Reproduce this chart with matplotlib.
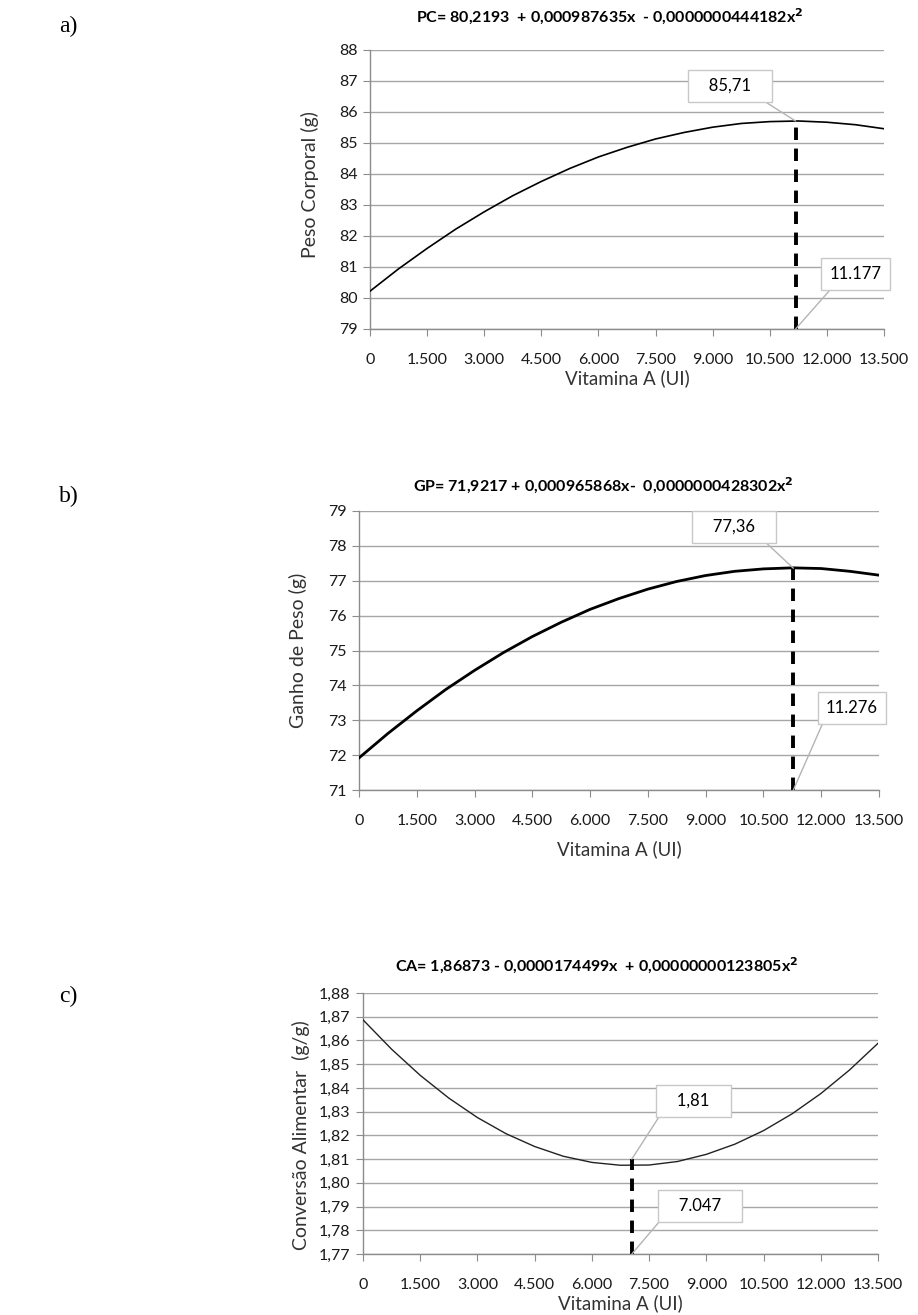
import matplotlib
matplotlib.use('Agg')
import matplotlib.pyplot as plt
import matplotlib.ticker as tkr

plt.rcParams['font.family'] = ['Lato', 'DejaVu Sans']

# Vitamina A (UI) levels
vit_a = [0, 750, 1500, 2250, 3000, 3750, 4500, 5250, 6000, 6750, 7500,
         8250, 9000, 9750, 10500, 11250, 12000, 12750, 13500]

peso_corporal = [80.22, 80.94, 81.60, 82.22, 82.78, 83.30, 83.76, 84.18, 84.55, 84.86,
                 85.13, 85.34, 85.51, 85.63, 85.69, 85.71, 85.67, 85.59, 85.46]
ganho_peso = [71.92, 72.62, 73.27, 73.88, 74.43, 74.94, 75.40, 75.81, 76.18, 76.49,
              76.76, 76.98, 77.15, 77.27, 77.34, 77.37, 77.35, 77.27, 77.16]
conversao = [1.8687, 1.8563, 1.8453, 1.8357, 1.8275, 1.8207, 1.8153, 1.8112, 1.8086, 1.8074,
             1.8075, 1.8090, 1.8120, 1.8163, 1.8220, 1.8291, 1.8376, 1.8475, 1.8588]

xticks = [0, 1500, 3000, 4500, 6000, 7500, 9000, 10500, 12000, 13500]

# optimum points (x, y) and their labels
opt_pc = (11177, 85.71, '85,71', '11.177')
opt_gp = (11276, 77.36, '77,36', '11.276')
opt_ca = (7047, 1.81, '1,81', '7.047')

titles = ['PC= 80,2193  + 0,000987635x  - 0,0000000444182x$^\\mathbf{2}$',
          'GP= 71,9217 + 0,000965868x-  0,0000000428302x$^\\mathbf{2}$',
          'CA= 1,86873 - 0,0000174499x  + 0,00000000123805x$^\\mathbf{2}$']

W, H = 918, 1315
fig = plt.figure(figsize=(W / 100, H / 100), dpi=100)

def px_axes(l, r, t, b):
    return fig.add_axes([l / W, 1 - b / H, (r - l) / W, (b - t) / H])

grey = '#8c8c8c'
grid = '#a6a6a6'
fs = 11.5

def style(ax, ylim, ystep, yfmt, xlabelpad):
    ax.set_xlim(0, 13500)
    ax.set_ylim(*ylim)
    ax.set_xticks(xticks)
    ax.xaxis.set_major_formatter(tkr.FuncFormatter(
        lambda v, p: '{:,d}'.format(int(round(v))).replace(',', '.')))
    n = int(round((ylim[1] - ylim[0]) / ystep))
    ax.set_yticks([ylim[0] + i * ystep for i in range(n + 1)])
    ax.yaxis.set_major_formatter(tkr.FuncFormatter(yfmt))
    for s in ['top', 'right']:
        ax.spines[s].set_visible(False)
    for s in ['left', 'bottom']:
        ax.spines[s].set_color(grey)
        ax.spines[s].set_linewidth(1)
    ax.grid(axis='y', color=grid, linewidth=1)
    ax.set_axisbelow(True)
    ax.tick_params(axis='x', length=5, color=grey, pad=12, labelsize=fs, labelcolor='#1a1a1a')
    ax.tick_params(axis='y', length=5, color=grey, pad=4, labelsize=fs, labelcolor='#1a1a1a')
    ax.set_xlabel('Vitamina A (UI)', fontsize=13.5, color='#333333', labelpad=xlabelpad)

def annotate(ax, opt, ymin, top_pos, top_rel, bot_pos, bot_rel, bot_sp=3):
    x, y, lab_y, lab_x = opt
    ax.plot([x, x], [ymin, y], color='black', linewidth=2.8, linestyle=(0, (3.2, 2.2)),
            zorder=4, clip_on=False)
    box = dict(boxstyle='square,pad=0.5', fc='white', ec='#c8c8c8', lw=1)
    ax.annotate('   ' + lab_y + '   ', xy=(x, y), xytext=top_pos, textcoords='axes fraction',
                ha='center', va='center', fontsize=12, bbox=box, zorder=5,
                arrowprops=dict(arrowstyle='-', color='#b4b4b4', lw=1,
                                relpos=top_rel, shrinkA=0, shrinkB=0))
    sp = ' ' * bot_sp
    ax.annotate(sp + lab_x + sp, xy=(x, ymin), xytext=bot_pos, textcoords='axes fraction',
                ha='center', va='center', fontsize=12, bbox=box, zorder=5,
                arrowprops=dict(arrowstyle='-', color='#b4b4b4', lw=1,
                                relpos=bot_rel, shrinkA=0, shrinkB=0), annotation_clip=False)

int_fmt = lambda v, p: '%d' % round(v)
dec_fmt = lambda v, p: ('%.2f' % v).replace('.', ',')

# a) Peso corporal
ax1 = px_axes(370, 884, 50, 329)
ax1.plot(vit_a, peso_corporal, color='black', linewidth=1.2, zorder=3)
style(ax1, (79, 88), 1, int_fmt, 2)
ax1.set_ylabel('Peso Corporal (g)', fontsize=14, color='#333333')
ax1.yaxis.set_label_coords(-0.0996, 0.516)
annotate(ax1, opt_pc, 79, (0.70, 0.871), (0.84, 0.0), (0.944, 0.197), (0.15, 0.0), 0)

# b) Ganho de peso
ax2 = px_axes(359, 879, 511, 790)
ax2.plot(vit_a, ganho_peso, color='black', linewidth=2, zorder=3)
style(ax2, (71, 79), 1, int_fmt, 9)
ax2.set_ylabel('Ganho de Peso (g)', fontsize=14, color='#333333')
ax2.yaxis.set_label_coords(-0.0998, 0.502)
annotate(ax2, opt_gp, 71, (0.721, 0.943), (0.85, 0.0), (0.948, 0.294), (0.0, 0.0), 0)

# c) Conversao alimentar
ax3 = px_axes(363, 878, 993, 1254)
ax3.plot(vit_a, conversao, color='#222222', linewidth=1.0, zorder=3)
style(ax3, (1.77, 1.88), 0.01, dec_fmt, 2)
ax3.set_ylabel('Conversão Alimentar  (g/g)', fontsize=14, color='#333333')
ax3.yaxis.set_label_coords(-0.1026, 0.456)
annotate(ax3, opt_ca, 1.77, (0.641, 0.586), (0.0, 0.0), (0.654, 0.184), (0.0, 0.0))

# chart titles (centred on the whole chart area, like the spreadsheet)
for t, (cx, cy) in zip(titles, [(610, 17), (603, 486), (597, 966)]):
    fig.text(cx / W, 1 - cy / H, t, fontsize=11.5, fontweight='bold',
             ha='center', va='center')

for lab, y in [('a)', 26), ('b)', 496), ('c)', 996)]:
    fig.text(59 / W, 1 - y / H, lab, fontsize=17, family='Liberation Serif', va='center')

fig.savefig('out.png', dpi=100)
